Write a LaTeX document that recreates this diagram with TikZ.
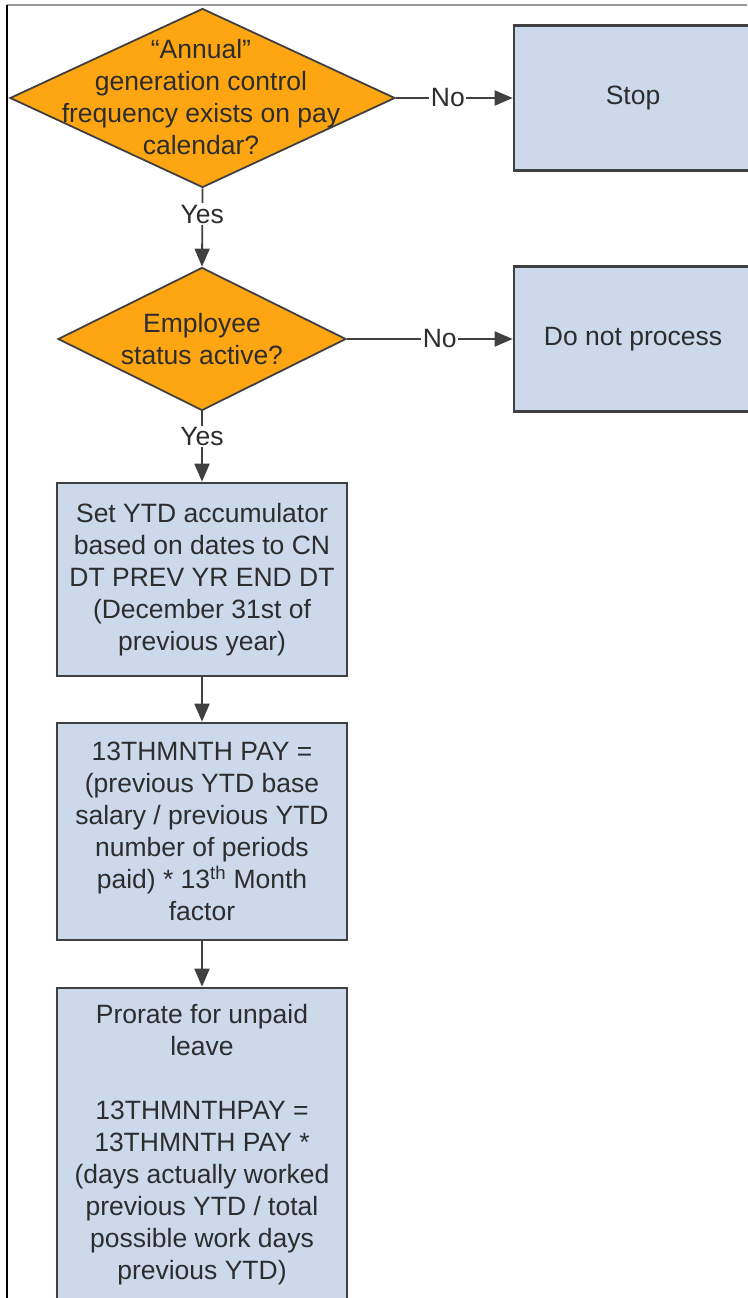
\documentclass[tikz,border=0pt]{standalone}
\usepackage{fontspec}
\setmainfont{Liberation Sans}
\usetikzlibrary{shapes.geometric,arrows.meta}

\definecolor{dorange}{RGB}{254,166,18}
\definecolor{boxblue}{RGB}{204,217,235}
\definecolor{edgegray}{RGB}{64,64,64}
\definecolor{txtgray}{RGB}{45,45,45}

\begin{document}
\begin{tikzpicture}[x=1pt,y=-1pt,
  every node/.style={font=\fontsize{26.5}{32}\selectfont, text=txtgray},
  dec/.style={shape=diamond, draw=edgegray, line width=1.8pt, fill=dorange, inner sep=0pt},
  proc/.style={rectangle, draw=edgegray, line width=2.6pt, fill=boxblue, align=center, inner sep=0pt},
  dectext/.style={align=center, inner sep=0pt},
  flow/.style={draw=edgegray, line width=1.8pt, -{Triangle[length=18pt,width=15pt]}},
  lab/.style={fill=white, inner sep=1.5pt},
  frametop/.style={draw=black!40, line width=1.5pt},
  frameleft/.style={draw=black, line width=2pt}]

\useasboundingbox (0,0) rectangle (747,1298);

% frame lines
\coordinate (ftl) at (6.5,5);
\coordinate (ftr) at (747,5);
\coordinate (fbl) at (6.5,1298);
\draw[frametop] (ftl) -- (ftr);
\draw[frameleft] (ftl) -- (fbl);

% decisions
\node[dec, minimum width=385pt, minimum height=179pt] (d1) at (202.5,98) {};
\node[dectext] (d1t) at (201,97) {“Annual”\\generation control\\frequency exists on pay\\calendar?};

\node[dec, minimum width=288pt, minimum height=143pt] (d2) at (202,339) {};
\node[dectext] (d2t) at (202,339) {Employee\\status active?};

% right boxes
\node[proc, minimum width=238pt, minimum height=145pt] (stop) at (633,98) {Stop};
\node[proc, minimum width=238pt, minimum height=145pt] (dnp) at (633,339) {Do not process};

% process boxes
\node[proc, minimum width=290pt, minimum height=193pt] (b3) at (202,579.5)
  {Set YTD accumulator\\based on dates to CN\\DT PREV YR END DT\\(December 31st of\\previous year)};
\node[proc, minimum width=290pt, minimum height=217pt] (b4) at (202,831.5)
  {13THMNTH PAY =\\(previous YTD base\\salary / previous YTD\\number of periods\\paid) * 13\textsuperscript{th} Month\\factor};
\node[proc, minimum width=290pt, minimum height=314pt] (b5) at (202,1145)
  {Prorate for unpaid\\leave\\[32pt]13THMNTHPAY =\\13THMNTH PAY *\\(days actually worked\\previous YTD / total\\possible work days\\previous YTD)};

% connectors
\draw[flow] (d1.east) -- node[lab, pos=0.445] {No} (stop.west);
\draw[flow] (d2.east) -- node[lab, pos=0.56] {No} (dnp.west);
\draw[flow] (d1.south) -- node[lab, pos=0.33] {Yes} (d2.north);
\draw[flow] (d2.south) -- node[lab, pos=0.36] {Yes} (b3.north);
\draw[flow] (b3.south) -- (b4.north);
\draw[flow] (b4.south) -- (b5.north);
\end{tikzpicture}
\end{document}
